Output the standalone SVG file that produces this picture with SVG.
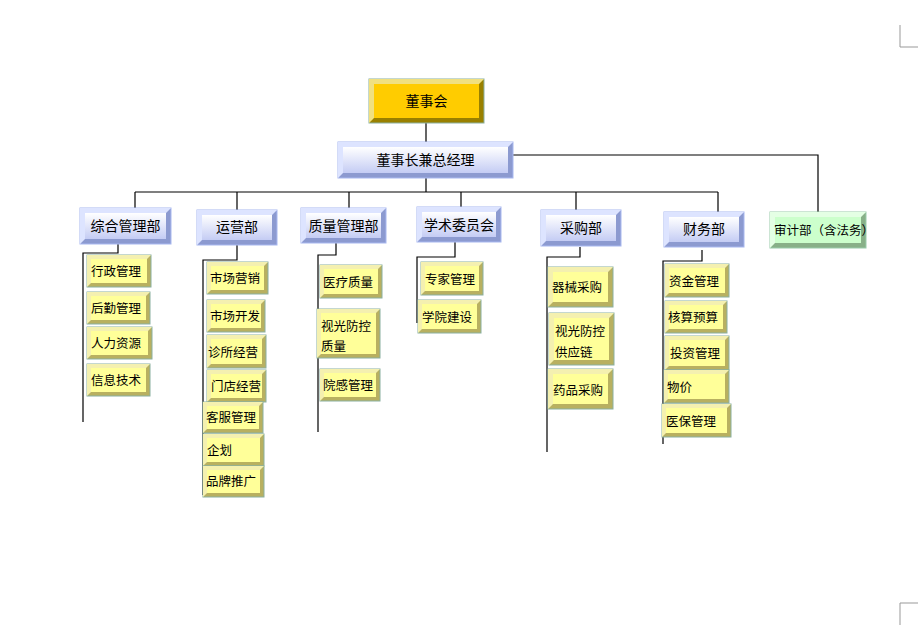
<svg xmlns="http://www.w3.org/2000/svg" width="918" height="635" viewBox="0 0 918 635">
<style>
text{font-family:"Noto Sans CJK SC","Liberation Sans",sans-serif;fill:#000}
.c{stroke:#000;stroke-width:1.2;fill:none}
.yo{fill:#b8b060;stroke:#8ab0a0;stroke-width:1}.yl{fill:#f4f0b0}.yi{fill:#ffff99}
.bo{fill:#8c9ad0;stroke:#a8b8f0;stroke-width:1}.bl{fill:#dde4ff}.bi{fill:url(#bg)}
.go{fill:#88b088;stroke:#99ccaa;stroke-width:1}.gl{fill:#e4ffe4}.gi{fill:#ccffcc}
.t{font-size:14px}.s{font-size:12.5px}
</style>
<defs><linearGradient id="bg" x1="0" y1="0" x2="0" y2="1"><stop offset="0" stop-color="#ffffff"/><stop offset="1" stop-color="#c4ccf4"/></linearGradient></defs>
<g stroke="#999" fill="none"><path d="M900 25V47H918"/><path d="M918 603H900V625"/></g>
<g id="connectors" class="c">
<path d="M426 123V142M426 178V192M135 192H718M135 192V208M237 192V210M349 192V208M461 192V207M576 192V210M718 192V212"/>
<path d="M513 155H818V212"/>
<path d="M118 244V253H83V422"/>
<path d="M237 245V260H203V495"/>
<path d="M336 243V255H318V432"/>
<path d="M455 242V257H417V323"/>
<path d="M580 247V257H547V452"/>
<path d="M702 250V261H663V444"/>
</g>
<g id="n0"><rect class="yo" x="369" y="79" width="115" height="44" style="fill:#998000"/><polygon fill="#f0e080" points="369,79 484,79 479,84 374,118 369,123"/><rect x="374" y="84" width="105" height="34" fill="#ffcc00"/><text class="t" x="426.5" y="106" text-anchor="middle">董事会</text></g>
<g id="n1"><rect class="bo" x="338" y="142" width="175" height="36"/><polygon class="bl" points="338,142 513,142 508,147 343,173 338,178"/><rect class="bi" x="343" y="147" width="165" height="26"/><text class="t" x="425.5" y="165" text-anchor="middle">董事长兼总经理</text></g>
<g id="d1"><rect class="bo" x="80" y="208" width="91" height="36"/><polygon class="bl" points="80,208 171,208 166,213 85,239 80,244"/><rect class="bi" x="85" y="213" width="81" height="26"/><text class="t" x="125.5" y="231" text-anchor="middle">综合管理部</text></g>
<g id="d2"><rect class="bo" x="197" y="210" width="80" height="35"/><polygon class="bl" points="197,210 277,210 272,215 202,240 197,245"/><rect class="bi" x="202" y="215" width="70" height="25"/><text class="t" x="237" y="232" text-anchor="middle">运营部</text></g>
<g id="d3"><rect class="bo" x="301" y="208" width="85" height="35"/><polygon class="bl" points="301,208 386,208 381,213 306,238 301,243"/><rect class="bi" x="306" y="213" width="75" height="25"/><text class="t" x="343.5" y="231" text-anchor="middle">质量管理部</text></g>
<g id="d4"><rect class="bo" x="417" y="207" width="84" height="35"/><polygon class="bl" points="417,207 501,207 496,212 422,237 417,242"/><rect class="bi" x="422" y="212" width="74" height="25"/><text class="t" x="459" y="230" text-anchor="middle">学术委员会</text></g>
<g id="d5"><rect class="bo" x="541" y="210" width="80" height="36"/><polygon class="bl" points="541,210 621,210 616,215 546,241 541,246"/><rect class="bi" x="546" y="215" width="70" height="26"/><text class="t" x="581" y="233" text-anchor="middle">采购部</text></g>
<g id="d6"><rect class="bo" x="664" y="212" width="80" height="35"/><polygon class="bl" points="664,212 744,212 739,217 669,242 664,247"/><rect class="bi" x="669" y="217" width="70" height="25"/><text class="t" x="704" y="234" text-anchor="middle">财务部</text></g>
<g id="d7"><rect class="go" x="770" y="212" width="96" height="36"/><polygon class="gl" points="770,212 866,212 861,217 775,243 770,248"/><rect class="gi" x="775" y="217" width="86" height="26"/><text class="s" x="774" y="235">审计部（含法务）</text></g>
<g id="i1"><rect class="yo" x="87" y="255" width="64" height="32"/><polygon class="yl" points="87,255 151,255 147,259 91,283 87,287"/><rect class="yi" x="91" y="259" width="56" height="24"/><text class="s" x="91" y="276">行政管理</text></g>
<g id="i2"><rect class="yo" x="87" y="292" width="63" height="32"/><polygon class="yl" points="87,292 150,292 146,296 91,320 87,324"/><rect class="yi" x="91" y="296" width="55" height="24"/><text class="s" x="91" y="313">后勤管理</text></g>
<g id="i3"><rect class="yo" x="87" y="327" width="65" height="32"/><polygon class="yl" points="87,327 152,327 148,331 91,355 87,359"/><rect class="yi" x="91" y="331" width="57" height="24"/><text class="s" x="91" y="348">人力资源</text></g>
<g id="i4"><rect class="yo" x="87" y="364" width="63" height="32"/><polygon class="yl" points="87,364 150,364 146,368 91,392 87,396"/><rect class="yi" x="91" y="368" width="55" height="24"/><text class="s" x="91" y="385">信息技术</text></g>
<g id="i5"><rect class="yo" x="207" y="262" width="61" height="32"/><polygon class="yl" points="207,262 268,262 264,266 211,290 207,294"/><rect class="yi" x="211" y="266" width="53" height="24"/><text class="s" x="210" y="283">市场营销</text></g>
<g id="i6"><rect class="yo" x="207" y="300" width="58" height="32"/><polygon class="yl" points="207,300 265,300 261,304 211,328 207,332"/><rect class="yi" x="211" y="304" width="50" height="24"/><text class="s" x="210" y="321">市场开发</text></g>
<g id="i7"><rect class="yo" x="207" y="335" width="59" height="33"/><polygon class="yl" points="207,335 266,335 262,339 211,364 207,368"/><rect class="yi" x="211" y="339" width="51" height="25"/><text class="s" x="208" y="357">诊所经营</text></g>
<g id="i8"><rect class="yo" x="207" y="370" width="59" height="32"/><polygon class="yl" points="207,370 266,370 262,374 211,398 207,402"/><rect class="yi" x="211" y="374" width="51" height="24"/><text class="s" x="211" y="391">门店经营</text></g>
<g id="i9"><rect class="yo" x="203" y="402" width="60" height="31"/><polygon class="yl" points="203,402 263,402 259,406 207,429 203,433"/><rect class="yi" x="207" y="406" width="52" height="23"/><text class="s" x="206" y="422">客服管理</text></g>
<g id="i10"><rect class="yo" x="203" y="434" width="61" height="32"/><polygon class="yl" points="203,434 264,434 260,438 207,462 203,466"/><rect class="yi" x="207" y="438" width="53" height="24"/><text class="s" x="207" y="455">企划</text></g>
<g id="i11"><rect class="yo" x="203" y="466" width="61" height="31"/><polygon class="yl" points="203,466 264,466 260,470 207,493 203,497"/><rect class="yi" x="207" y="470" width="53" height="23"/><text class="s" x="206" y="486">品牌推广</text></g>
<g id="i12"><rect class="yo" x="320" y="265" width="62" height="33"/><polygon class="yl" points="320,265 382,265 378,269 324,294 320,298"/><rect class="yi" x="324" y="269" width="54" height="25"/><text class="s" x="323" y="287">医疗质量</text></g>
<g id="i13"><rect class="yo" x="317" y="309" width="63" height="49"/><polygon class="yl" points="317,309 380,309 376,313 321,354 317,358"/><rect class="yi" x="321" y="313" width="55" height="41"/><text class="s" x="321" y="331">视光防控</text><text class="s" x="321" y="351">质量</text></g>
<g id="i14"><rect class="yo" x="320" y="369" width="60" height="32"/><polygon class="yl" points="320,369 380,369 376,373 324,397 320,401"/><rect class="yi" x="324" y="373" width="52" height="24"/><text class="s" x="323" y="390">院感管理</text></g>
<g id="i15"><rect class="yo" x="421" y="262" width="62" height="33"/><polygon class="yl" points="421,262 483,262 479,266 425,291 421,295"/><rect class="yi" x="425" y="266" width="54" height="25"/><text class="s" x="425" y="284">专家管理</text></g>
<g id="i16"><rect class="yo" x="418" y="300" width="63" height="33"/><polygon class="yl" points="418,300 481,300 477,304 422,329 418,333"/><rect class="yi" x="422" y="304" width="55" height="25"/><text class="s" x="422" y="322">学院建设</text></g>
<g id="i17"><rect class="yo" x="548" y="267" width="65" height="40"/><polygon class="yl" points="548,267 613,267 608,272 553,302 548,307"/><rect class="yi" x="553" y="272" width="55" height="30"/><text class="s" x="552" y="292">器械采购</text></g>
<g id="i18"><rect class="yo" x="549" y="313" width="65" height="52"/><polygon class="yl" points="549,313 614,313 609,318 554,360 549,365"/><rect class="yi" x="554" y="318" width="55" height="42"/><text class="s" x="555" y="336">视光防控</text><text class="s" x="555" y="357">供应链</text></g>
<g id="i19"><rect class="yo" x="548" y="369" width="65" height="40"/><polygon class="yl" points="548,369 613,369 608,374 553,404 548,409"/><rect class="yi" x="553" y="374" width="55" height="30"/><text class="s" x="553" y="395">药品采购</text></g>
<g id="i20"><rect class="yo" x="665" y="264" width="64" height="33"/><polygon class="yl" points="665,264 729,264 725,268 669,293 665,297"/><rect class="yi" x="669" y="268" width="56" height="25"/><text class="s" x="669" y="286">资金管理</text></g>
<g id="i21"><rect class="yo" x="665" y="301" width="62" height="32"/><polygon class="yl" points="665,301 727,301 723,305 669,329 665,333"/><rect class="yi" x="669" y="305" width="54" height="24"/><text class="s" x="668" y="322">核算预算</text></g>
<g id="i22"><rect class="yo" x="665" y="336" width="64" height="34"/><polygon class="yl" points="665,336 729,336 725,340 669,366 665,370"/><rect class="yi" x="669" y="340" width="56" height="26"/><text class="s" x="670" y="358">投资管理</text></g>
<g id="i23"><rect class="yo" x="664" y="370" width="65" height="33"/><polygon class="yl" points="664,370 729,370 725,374 668,399 664,403"/><rect class="yi" x="668" y="374" width="57" height="25"/><text class="s" x="667" y="392">物价</text></g>
<g id="i24"><rect class="yo" x="662" y="404" width="69" height="33"/><polygon class="yl" points="662,404 731,404 727,408 666,433 662,437"/><rect class="yi" x="666" y="408" width="61" height="25"/><text class="s" x="666" y="426">医保管理</text></g>
</svg>
